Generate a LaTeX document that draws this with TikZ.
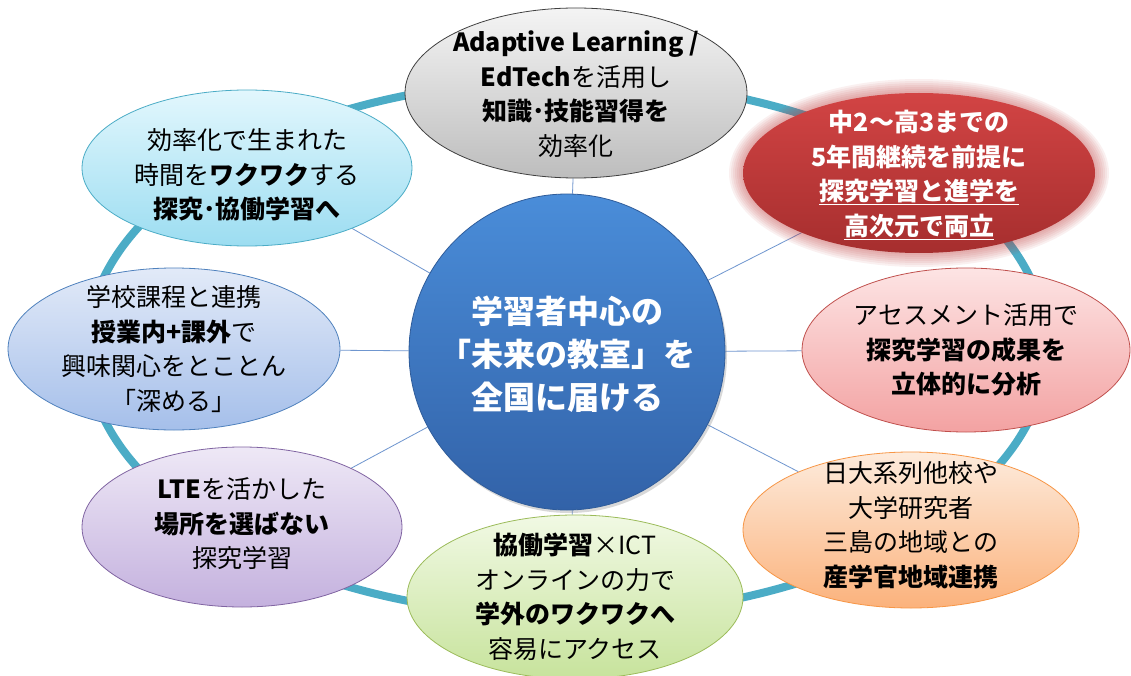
\documentclass[tikz,border=0pt]{standalone}
\usepackage{fontspec}
\setmainfont{Noto Sans CJK JP}
\usetikzlibrary{shapes.geometric,shadows}
\pgfdeclarelayer{bg}
\pgfsetlayers{bg,main}
\definecolor{ringc}{HTML}{4BACC6}
\definecolor{connc}{HTML}{6F96CF}
\definecolor{ctop}{HTML}{4A8DD9}
\definecolor{cbot}{HTML}{3262A8}
\definecolor{cbord}{HTML}{2F5C9A}
\definecolor{rtop}{HTML}{D24444}
\definecolor{rbot}{HTML}{A62E2E}
\definecolor{rglow}{HTML}{C03838}
\definecolor{gtop}{HTML}{F4F4F4}
\definecolor{gbot}{HTML}{BDBDBD}
\definecolor{cytop}{HTML}{E2F7FD}
\definecolor{cybot}{HTML}{9CDDF1}
\definecolor{bltop}{HTML}{E2EAF8}
\definecolor{blbot}{HTML}{A5BFEA}
\definecolor{blbord}{HTML}{4F81BD}
\definecolor{pktop}{HTML}{FDE4E4}
\definecolor{pkbot}{HTML}{F3A2A2}
\definecolor{pkbord}{HTML}{C0504D}
\definecolor{putop}{HTML}{EEE8F6}
\definecolor{pubot}{HTML}{C4B1DE}
\definecolor{pubord}{HTML}{8064A2}
\definecolor{ortop}{HTML}{FDEBDC}
\definecolor{orbot}{HTML}{FBB27C}
\definecolor{orbord}{HTML}{F79646}
\definecolor{grtop}{HTML}{F1F9E4}
\definecolor{grbot}{HTML}{C7E39C}
\definecolor{grbord}{HTML}{9BBB59}
\begin{document}
\begin{tikzpicture}[x=1pt,y=-1pt,
  sat/.style={ellipse, draw, line width=0.8pt, inner sep=0pt},
  txt/.style={align=center, inner sep=0pt, font=\fontsize{25}{34.5}\selectfont},
  conn/.style={draw=connc, line width=0.8pt},
  ring/.style={draw=ringc, line width=8pt}
]
\useasboundingbox (0,0) rectangle (1131,676);
% center
\node[circle, minimum size=316pt, inner sep=0pt, draw=cbord, line width=0.8pt,
  top color=ctop, bottom color=cbot,
  drop shadow={opacity=0.3, shadow xshift=2pt, shadow yshift=-3pt}] (c) at (567,352) {};
\node[txt, text=white, font=\fontsize{32}{43}\selectfont\bfseries] (ct) at (567,354)
  {学習者中心の\\「未来の教室」を\\全国に届ける};
% satellites
\node[sat, minimum width=342pt, minimum height=170pt, draw=black!75,
  top color=gtop, bottom color=gbot] (s1) at (576,93) {};
\node[txt] (t1) at (576,94) {{\bfseries Adaptive Learning /}\\{\bfseries EdTech}を活用し\\{\bfseries 知識･技能習得を}\\効率化};
% red with glow
\foreach \i in {1,...,7}
  \fill[rglow, opacity=0.07] (919,173) ellipse [x radius={176+2*\i}, y radius={80+2*\i}];
\node[ellipse, inner sep=0pt, minimum width=352pt, minimum height=160pt,
  top color=rtop, bottom color=rbot] (s2) at (919,173) {};
\node[txt, text=white, font=\fontsize{25}{34.5}\selectfont\bfseries] (t2) at (919,175)
  {中2～高3までの\\5年間継続を前提に\\\underline{探究学習と進学を}\\\underline{高次元で両立}};
\node[sat, minimum width=330pt, minimum height=156pt, draw=ringc,
  top color=cytop, bottom color=cybot] (s3) at (247,168) {};
\node[txt] (t3) at (247,175) {効率化で生まれた\\時間を{\bfseries ワクワク}する\\{\bfseries 探究･協働学習へ}};
\node[sat, minimum width=332pt, minimum height=162pt, draw=blbord,
  top color=bltop, bottom color=blbot] (s4) at (174,349) {};
\node[txt] (t4) at (174,349) {学校課程と連携\\{\bfseries 授業内+課外}で\\興味関心をとことん\\「深める」};
\node[sat, minimum width=328pt, minimum height=164pt, draw=pkbord,
  top color=pktop, bottom color=pkbot] (s5) at (966,350) {};
\node[txt] (t5) at (966,350) {アセスメント活用で\\{\bfseries 探究学習の成果を}\\{\bfseries 立体的に分析}};
\node[sat, minimum width=320pt, minimum height=160pt, draw=pubord,
  top color=putop, bottom color=pubot] (s6) at (242,527) {};
\node[txt] (t6) at (242,524) {{\bfseries LTE}を活かした\\{\bfseries 場所を選ばない}\\探究学習};
\node[sat, minimum width=336pt, minimum height=156pt, draw=orbord,
  top color=ortop, bottom color=orbot] (s7) at (911,530) {};
\node[txt] (t7) at (911,525) {日大系列他校や\\大学研究者\\三島の地域との\\{\bfseries 産学官地域連携}};
\node[sat, minimum width=336pt, minimum height=164pt, draw=grbord,
  top color=grtop, bottom color=grbot] (s8) at (575,597) {};
\node[txt] (t8) at (575,597) {{\bfseries 協働学習}×ICT\\オンラインの力で\\{\bfseries 学外のワクワクへ}\\容易にアクセス};
\begin{pgfonlayer}{bg}
  \fill[white] (0,0) rectangle (1131,676);
  \draw[ring] (567,348) ellipse [x radius=480, y radius=268];
  \foreach \s in {s1,s2,s3,s4,s5,s6,s7,s8}
    \draw[conn] (c) -- (\s);
\end{pgfonlayer}
\end{tikzpicture}
\end{document}
